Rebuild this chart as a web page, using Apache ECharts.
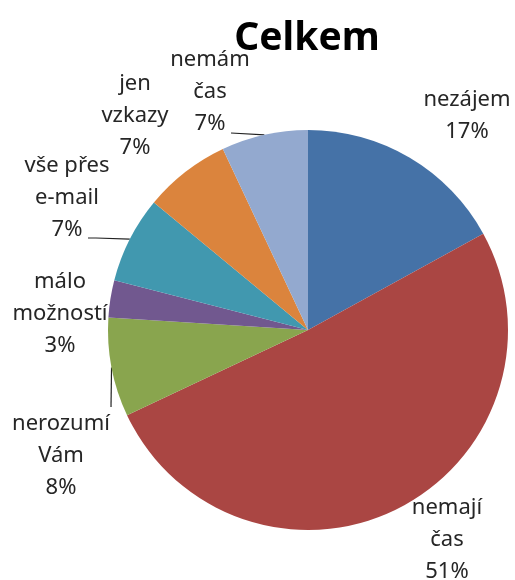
<!DOCTYPE html>
<html>
<head>
<meta charset="utf-8">
<script src="https://cdn.jsdelivr.net/npm/echarts@6/dist/echarts.min.js"></script>
<style>
  html, body { margin: 0; padding: 0; background: #fff; }
  #chart { width: 515px; height: 580px; }
</style>
</head>
<body>
<div id="chart"></div>
<script>
const names = ['nezájem', 'nemají\nčas', 'nerozumí\nVám', 'málo\nmožností', 'vše přes\ne-mail', 'jen\nvzkazy', 'nemám\nčas']
const values = [17, 51, 8, 3, 7, 7, 7]
const colors = ['#4572A7', '#AA4643', '#89A54E', '#71588F', '#4198AF', '#DB843D', '#93A9CF']

const cx = 308, cy = 330, r = 200

// label centres and leader line ends, picked by eye from the reference
const labelPos = [[467, 116], [447, 540], [61, 456], [60, 314], [67, 198], [135, 116], [210, 92]]
const lineEnds = [null, null, [[111, 407]], null, [[96, 238], [88, 238]], null, [[231, 133]]]

const total = values.reduce((a, b) => a + b, 0)
// point on the rim at the middle of slice i
const rimPoint = (i) => {
  let before = 0
  for (let k = 0; k < i; k++) before += values[k]
  const a = (before + values[i] / 2) / total * Math.PI * 2
  return [cx + r * Math.sin(a), cy - r * Math.cos(a)]
}

const chart = echarts.init(document.getElementById('chart'))

const option = {
  animation: false,
  title: {
    text: 'Celkem',
    left: 302,
    top: 14,
    textAlign: 'center',
    textStyle: {
      fontFamily: 'Noto Sans',
      fontSize: 39,
      fontWeight: 'bold',
      color: '#000'
    }
  },
  series: [
    {
      type: 'pie',
      center: [cx, cy],
      radius: r,
      startAngle: 90,
      clockwise: true,
      emphasis: { disabled: true },
      label: {
        show: true,
        position: 'outside',
        formatter: p => p.name + '\n' + Math.round(p.percent) + '%',
        fontFamily: 'Noto Sans',
        fontSize: 22,
        lineHeight: 32,
        color: '#262626',
        align: 'center',
        overflow: 'none'
      },
      labelLine: {
        show: true,
        lineStyle: { color: '#222', width: 1.2 }
      },
      labelLayout: p => {
        const i = p.dataIndex
        const out = {
          x: labelPos[i][0],
          y: labelPos[i][1],
          align: 'center',
          verticalAlign: 'middle'
        }
        if (lineEnds[i]) out.labelLinePoints = [rimPoint(i)].concat(lineEnds[i])
        return out
      },
      data: values.map((v, i) => ({
        name: names[i],
        value: v,
        itemStyle: { color: colors[i] },
        labelLine: { show: !!lineEnds[i] }
      }))
    }
  ]
}

chart.setOption(option)
</script>
</body>
</html>
